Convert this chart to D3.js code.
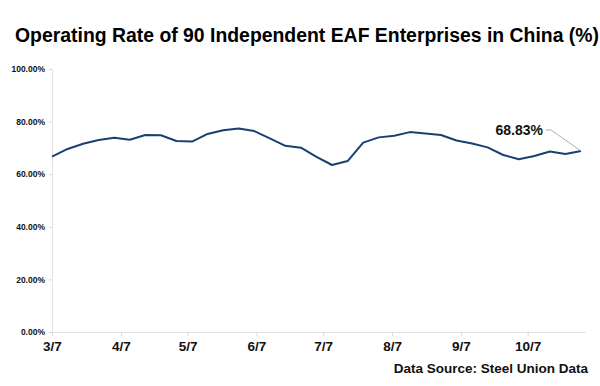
<!DOCTYPE html>
<html>
<head>
<meta charset="utf-8">
<script src="https://cdn.jsdelivr.net/npm/d3@7"></script>
<style>
  body { margin: 0; background: #fff; }
  text { font-family: "Liberation Sans", Arial, sans-serif; }
</style>
</head>
<body>
<div id="chart"></div>
<script>
const W = 600, H = 386;

// weekly dates (Thursdays) from 3/7 to 10/31
const startDate = "2024-03-07";
const rates = [66.7, 69.6, 71.6, 73.0, 73.9, 73.1, 74.9, 74.8, 72.6, 72.4,
    75.3, 76.7, 77.4, 76.4, 73.6, 70.8, 70.1, 66.6, 63.5, 65.0,
    72.0, 74.0, 74.6, 76.0, 75.5, 74.9, 72.8, 71.7, 70.2, 67.3,
    65.7, 66.9, 68.6, 67.7, 68.83];
const tickDates = ["2024-03-07", "2024-04-07", "2024-05-07", "2024-06-07",
    "2024-07-07", "2024-08-07", "2024-09-07", "2024-10-07"];
const yTicks = [0, 20, 40, 60, 80, 100];

const parse = d3.timeParse("%Y-%m-%d");
const t0 = parse(startDate);
const series = rates.map((v, i) => ({ date: d3.timeDay.offset(t0, i * 7), value: v }));

const margin = { left: 52, right: 15, top: 69, bottom: 54 };

const svg = d3.select("#chart").append("svg")
    .attr("width", W)
    .attr("height", H);

svg.append("text")
    .attr("x", 307)
    .attr("y", 42)
    .attr("text-anchor", "middle")
    .attr("font-size", "19.4px")
    .attr("font-weight", "bold")
    .attr("fill", "#000")
    .text("Operating Rate of 90 Independent EAF Enterprises in China (%)");

const x = d3.scaleTime()
    .domain([t0, series[series.length - 1].date])
    .range([margin.left, 581]);

const y = d3.scaleLinear()
    .domain([0, 100])
    .range([H - margin.bottom - 0, margin.top]);

// y axis
const yAxis = svg.append("g")
    .attr("transform", `translate(${margin.left},0)`)
    .call(d3.axisLeft(y).tickValues(yTicks).tickSize(3).tickFormat(d => d.toFixed(2) + "%"));
yAxis.select(".domain").attr("stroke", "#e3e3e3");
yAxis.selectAll(".tick line").attr("stroke", "#d8d8d8");
yAxis.selectAll(".tick text")
    .attr("x", -7)
    .attr("font-size", "8.5px")
    .attr("font-weight", "bold")
    .attr("fill", "#111");

// x axis
const xAxis = svg.append("g")
    .attr("transform", `translate(0,${y(0)})`)
    .call(d3.axisBottom(x).tickValues(tickDates.map(parse)).tickSize(4).tickSizeOuter(0)
        .tickFormat(d3.timeFormat("%-m/%-d")));
xAxis.select(".domain").attr("d", `M${margin.left},0.5H586`).attr("stroke", "#e3e3e3");
xAxis.selectAll(".tick line").attr("stroke", "#d8d8d8");
xAxis.selectAll(".tick text")
    .attr("y", 9)
    .attr("font-size", "13.5px")
    .attr("font-weight", "bold")
    .attr("fill", "#111");

// line
const line = d3.line()
    .x(d => x(d.date))
    .y(d => y(d.value));

svg.append("path")
    .datum(series)
    .attr("fill", "none")
    .attr("stroke", "#1c3f73")
    .attr("stroke-width", 2)
    .attr("stroke-linejoin", "round")
    .attr("d", line);

// last value annotation
const last = series[series.length - 1];
const lx = x(last.date), ly = y(last.value);
svg.append("path")
    .attr("d", `M${lx},${ly}L${lx - 30},${ly - 21}H${lx - 35}`)
    .attr("fill", "none")
    .attr("stroke", "#999")
    .attr("stroke-width", 0.8);
svg.append("text")
    .attr("x", lx - 38)
    .attr("y", ly - 16)
    .attr("text-anchor", "end")
    .attr("font-size", "14px")
    .attr("font-weight", "bold")
    .attr("fill", "#111")
    .text(last.value.toFixed(2) + "%");

svg.append("text")
    .attr("x", 588)
    .attr("y", 373)
    .attr("text-anchor", "end")
    .attr("font-size", "13.5px")
    .attr("font-weight", "bold")
    .attr("fill", "#111")
    .text("Data Source: Steel Union Data");
</script>
</body>
</html>
